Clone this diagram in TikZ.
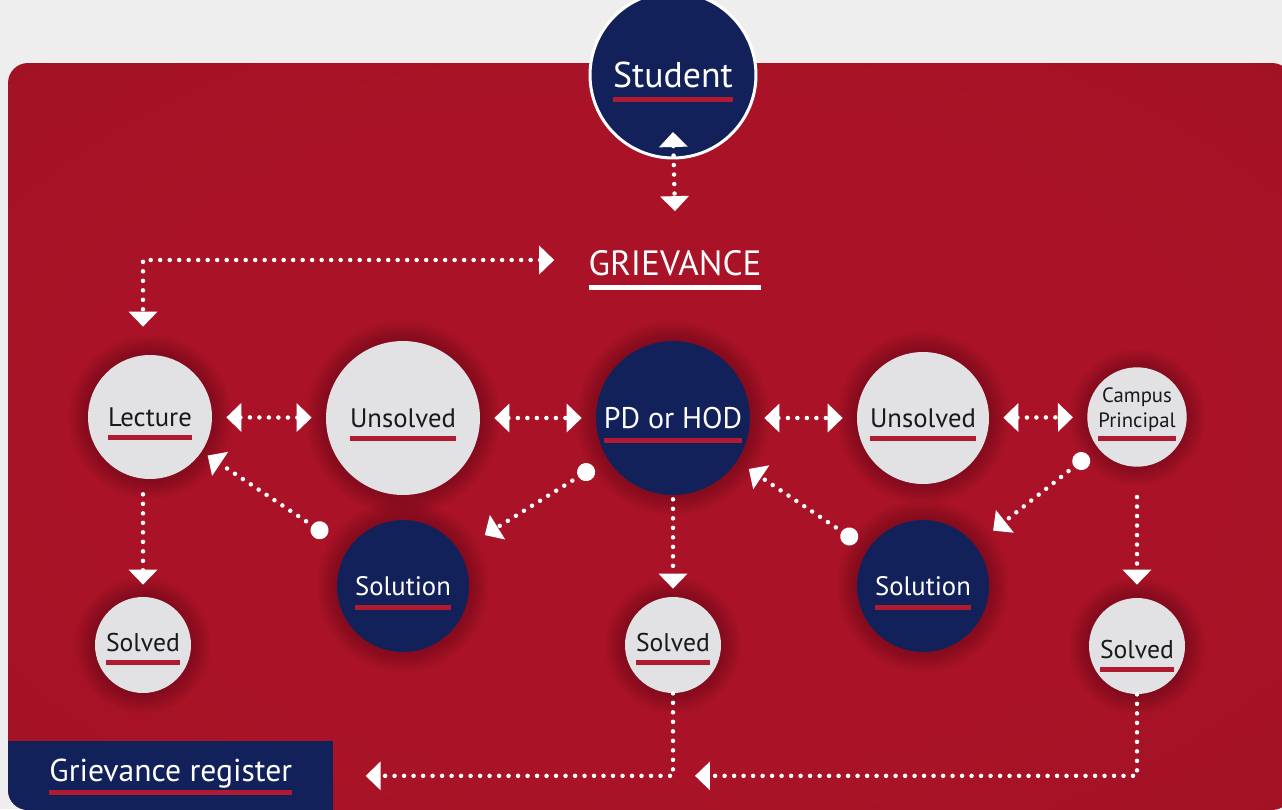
\documentclass[tikz,border=0pt]{standalone}
\usepackage{fontspec}
\setmainfont{PT Sans}
\usetikzlibrary{arrows.meta,backgrounds}

\definecolor{paper}{HTML}{EEEEEE}
\definecolor{navy}{HTML}{13215A}
\definecolor{pale}{HTML}{E2E2E4}
\definecolor{crimson}{HTML}{AA1327}
\definecolor{darkred}{HTML}{8B0E1E}
\definecolor{barred}{HTML}{B11B31}

% board gradient, light in the middle
\pgfdeclareradialshading{boardshade}{\pgfpoint{0bp}{0bp}}{color(0bp)=(crimson); color(22bp)=(crimson); color(50bp)=(darkred!55!crimson); color(72bp)=(darkred)}

% label with a bar under it, sitting a little low
\def\ubarlift{0.28cm}
\newcommand{\ubar}[2][barred]{%
  \setbox0=\hbox{#2}\dp0=0.06cm
  \vtop{\offinterlineskip
    \hbox{\vrule height\dimexpr\ht0+\ubarlift\relax width0pt\copy0}%
    \kern0.12cm\hbox{\color{#1}\rule{\wd0}{0.1cm}}}}

\tikzset{
  >={Triangle[length=0.3cm,width=0.56cm]},
  knob/.tip={Circle[length=0.36cm]},
  flow/.style={white, line width=0.09cm, line cap=round, dash pattern=on 0pt off 0.19cm},
  gap/.style={shorten <=0.28cm, shorten >=0.28cm},
  ball/.style={circle, inner sep=0pt, fill=pale, text=black!90, font=\fontsize{15.2}{18}\selectfont},
  navyball/.style={ball, fill=navy, text=white},
  lift/.style={execute at begin node=\def\ubarlift{#1}},
}

\begin{document}
\begin{tikzpicture}[x=0.02cm, y=-0.02cm]
    \useasboundingbox (0,0) rectangle (1282,809);

    \node[circle, inner sep=0pt, fill=navy, draw=white, line width=0.06cm, text=white, minimum size=3.32cm, font=\fontsize{20.4}{24}\selectfont] (stud) at (673,75) {\ubar{Student}};
    \node[inner sep=0pt, text=white, font=\fontsize{20}{24}\selectfont] (griev) at (675,263) {\ubar[white]{GRIEVANCE}};

    % middle row
    \node[ball, minimum size=2.48cm] (lec) at (150,417) {\ubar{Lecture}};
    \node[ball, minimum size=3.08cm] (uns1) at (403,418) {\ubar{Unsolved}};
    \node[navyball, minimum size=3.08cm, font=\fontsize{17}{20}\selectfont] (pd) at (673,418) {\ubar{PD or HOD}};
    \node[ball, minimum size=2.64cm] (uns2) at (923,418) {\ubar{Unsolved}};
    \node[ball, minimum size=1.92cm, lift=0.12cm, font=\fontsize{11.8}{14.3}\selectfont] (camp) at (1137,417)
        {\raisebox{0.14cm}[\height][\depth]{\ubar{\begin{tabular}[b]{@{}c@{}}Campus\\Principal\end{tabular}}}};

    % lower rows
    \node[navyball, minimum size=2.64cm] (sol1) at (403,586) {\ubar{Solution}};
    \node[navyball, minimum size=2.64cm] (sol2) at (923,586) {\ubar{Solution}};
    \node[ball, minimum size=1.92cm, lift=0.16cm, font=\fontsize{14.6}{17}\selectfont] (slv1) at (143,645) {\ubar{Solved}};
    \node[ball, minimum size=1.92cm, lift=0.16cm, font=\fontsize{14.6}{17}\selectfont] (slv2) at (673,645) {\ubar{Solved}};
    \node[ball, minimum size=1.92cm, lift=0.4cm, font=\fontsize{14.6}{17}\selectfont] (slv3) at (1137,646) {\ubar{Solved}};

    \begin{scope}
    \clip[rounded corners=0.4cm] (8,63) rectangle (1292,810);
    \node[fill=navy, inner sep=0pt, anchor=north west, minimum width=6.5cm, minimum height=1.38cm, text=white, lift=0.04cm, font=\fontsize{18}{21}\selectfont] (reg) at (8,741) {\ubar{Grievance register}};
    \end{scope}

    % board and soft shadows under the circles
    \begin{scope}[on background layer]
    \fill[paper] (0,0) rectangle (1282,809);
    \path[rounded corners=0.4cm, shading=boardshade] (8,63) rectangle (1292,810);
    \foreach \n/\r in {lec/62,uns1/77,pd/77,uns2/66,camp/48,sol1/66,sol2/66,slv1/48,slv2/48,slv3/48}
    \foreach \k in {1,...,8}
    {
    \fill[black, opacity=0.028] (\n.center) circle ({(\r+2.5*\k)*0.02cm});
    }
    \end{scope}

    % connectors
    \draw[flow,<->] ([yshift=0.55cm]stud.south) -- ([yshift=0.5cm]griev.north);
    \draw[flow,<->,shorten <=0.68cm,shorten >=0.56cm] ([yshift=0.06cm]griev.west) -| ([xshift=-0.14cm]lec.north);

    \draw[flow,<->,gap] (lec) -- (uns1);
    \draw[flow,<->,gap] (uns1) -- (pd);
    \draw[flow,<->,gap] (pd) -- (uns2);
    \draw[flow,<->,gap] (uns2) -- (camp);

    \draw[flow,knob->,shorten <=0.5cm,shorten >=0.14cm] (sol1) -- (lec);
    \draw[flow,knob->,shorten <=0.32cm,shorten >=0.6cm] (pd) -- (sol1);
    \draw[flow,knob->,shorten <=0.27cm,shorten >=0.28cm] (sol2) -- (pd);
    \draw[flow,knob->,shorten <=0.24cm,shorten >=0.46cm] (camp) -- (sol2);

    \draw[flow,->,shorten <=0.3cm,shorten >=0.24cm] ([xshift=-0.14cm]lec.south) -- (slv1.north);
    \draw[flow,->,shorten <=0.08cm,shorten >=0.16cm] (pd) -- (slv2);
    \draw[flow,->,shorten <=0.6cm,shorten >=0.26cm] (camp) -- (slv3);

    \draw[flow,->,shorten >=0.64cm] (slv2) |- (reg);
    \draw[flow,->,shorten >=0.44cm] (slv3) |- (slv2 |- reg);
\end{tikzpicture}
\end{document}
